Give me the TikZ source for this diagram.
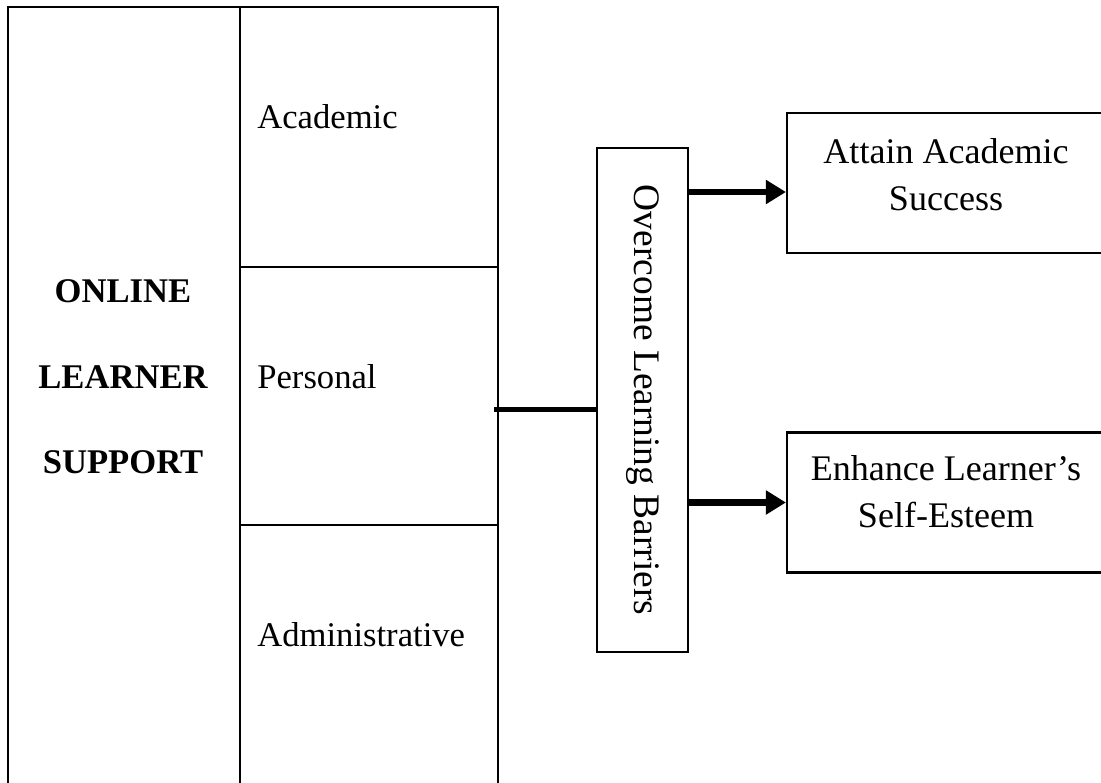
\documentclass[tikz,border=0pt]{standalone}
\usepackage{fontspec}
\setmainfont{Liberation Serif}
\usetikzlibrary{positioning,calc,arrows.meta}

\begin{document}
\begin{tikzpicture}[
    cell/.style={draw, line width=1.2pt, anchor=north west, inner sep=0pt},
    celltxt/.style={anchor=base west, inner sep=0pt, font=\fontsize{19.7}{26.6}\selectfont},
    head/.style={anchor=base, inner sep=0pt, font=\fontsize{19.7}{26.6}\selectfont\bfseries},
    goal/.style={draw, line width=1.2pt, minimum width=6.36cm, minimum height=2.8cm, inner sep=0pt},
    goaltxt/.style={align=center, inner sep=0pt, font=\fontsize{20.5}{26.6}\selectfont},
    arr/.style={line width=3.7pt, -{Triangle[length=0.4cm, width=0.46cm]}},
    link/.style={line width=3.4pt}
]
\useasboundingbox (0,0) rectangle (22.02,-15.64);

% Support table
\node[cell, minimum width=4.64cm, minimum height=16cm] (ols) at (0.14,-0.12) {};
\foreach \w/\y in {ONLINE/6.04, LEARNER/7.76, SUPPORT/9.46} {
    \node[head] (t\w) at (2.46,-\y) {\w};
}

\foreach \nm/\txt/\y/\h in {acad/Academic/0.12/5.2, pers/Personal/5.32/5.16, admin/Administrative/10.48/6} {
    \node[cell, minimum width=5.16cm, minimum height=\h cm] (\nm) at (4.78,-\y) {};
    \node[celltxt] (\nm t) at ([xshift=0.36cm, yshift=-2.45cm]\nm.north west) {\txt};
}

% Barriers box
\node[draw, line width=1.2pt, rotate=-90, minimum width=10.08cm, minimum height=1.82cm,
      inner sep=0pt, font=\fontsize{21.3}{26.6}\selectfont] (ovb) at (12.85,-8.0) {Overcome Learning Barriers};

% Goals
\node[goal] (succ) at (18.92,-3.66) {};
\node[goaltxt] (succt) at (18.92,-3.49) {Attain Academic\\Success};
\node[goal] (esteem) at (18.92,-10.05) {};
\node[goaltxt] (esteemt) at (18.92,-9.84) {Enhance Learner’s\\Self-Esteem};

% Connectors
\coordinate (c1) at ([yshift=-0.19cm]ovb.south);
\draw[link, shorten <=-0.1cm] (c1 -| pers.east) -- (c1);

\coordinate (a1) at ([yshift=-0.18cm]succ.west);
\draw[arr] (a1 -| ovb.north) -- (a1);
\draw[arr] (esteem.west -| ovb.north) -- (esteem.west);

\end{tikzpicture}
\end{document}
